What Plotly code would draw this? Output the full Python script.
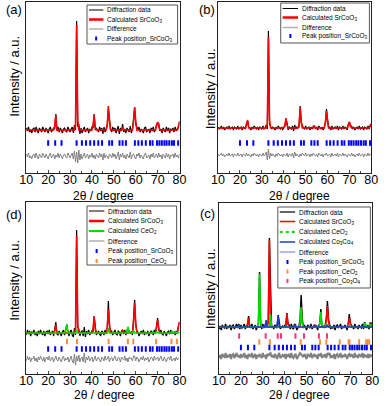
import plotly.graph_objects as go

W, H = 387, 406
two_theta = [round(10 + 0.5 * i, 1) for i in range(141)]

# ---------------- data (arbitrary intensity units) ----------------
# calculated peak heights at 0.5 degree steps (zero elsewhere)
calc_a_srcoo3 = {23.0: 4, 23.5: 15, 32.5: 6, 33.0: 105, 33.5: 10, 40.5: 4, 41.0: 15, 41.5: 3,
                 47.0: 5, 47.5: 24, 48.0: 9, 54.0: 3, 59.0: 8, 59.5: 23, 60.0: 9,
                 69.5: 4, 70.0: 8, 70.5: 4, 79.5: 4, 80.0: 7}
calc_b_srcoo3 = {23.0: 3, 23.5: 8, 32.5: 4, 33.0: 91, 33.5: 8, 40.5: 2, 41.0: 10, 41.5: 3,
                 47.0: 3, 47.5: 21, 48.0: 6, 54.0: 2, 59.0: 5, 59.5: 17, 60.0: 6,
                 69.5: 3, 70.0: 6, 70.5: 2, 79.5: 2, 80.0: 4}
calc_d_srcoo3 = {23.0: 2, 23.5: 8, 32.5: 4, 33.0: 97, 33.5: 8, 40.5: 4, 41.0: 16, 41.5: 4,
                 47.0: 5, 47.5: 24, 48.0: 9, 54.0: 3, 59.0: 10, 59.5: 30, 60.0: 10,
                 69.5: 6, 70.0: 13, 70.5: 5, 79.5: 6, 80.0: 11}
calc_d_ceo2 = {28.0: 2, 28.5: 9, 33.0: 3, 47.5: 5, 56.0: 2, 56.5: 6, 59.0: 2, 69.5: 1,
               76.5: 2, 79.0: 1}
calc_c_srcoo3 = {23.0: 3, 23.5: 9, 32.5: 5, 33.0: 87, 33.5: 6, 40.5: 3, 41.0: 13, 41.5: 3,
                 47.5: 10, 48.0: 5, 54.0: 2, 59.0: 7, 59.5: 21, 60.0: 6,
                 69.0: 2, 69.5: 9, 70.0: 4, 79.5: 4}
calc_c_ceo2 = {28.0: 5, 28.5: 53, 29.0: 4, 33.5: 13, 47.0: 4, 47.5: 20, 48.0: 3,
               56.0: 3, 56.5: 15, 57.0: 2, 59.0: 3, 69.5: 2, 76.5: 4, 77.0: 2, 79.0: 3}
calc_c_co3o4 = {19.0: 2, 31.5: 7, 36.5: 2, 37.0: 11, 44.5: 2, 59.5: 2, 65.0: 1}

# difference (observed - calculated) at every 0.5 degree step
diff_a = [2, -1, 3, -2, 0, -3, 1, 2, -2, 3, -1, -3, 2, 0, -2, 3, 1, -2, 2, -1,
          -3, 1, 3, -2, 0, 2, -3, 1, -1, 3, -2, 2, 0, -3, 1, 2, -1, -2, 3, 0,
          -2, 1, 3, -3, 5, -6, 4, -7, 6, -4, 2, -3, 1, 3, -2, 0, 2, -3, 1, -1,
          3, -2, 1, -3, 2, 0, -2, 3, -1, 2, -4, 3, -2, 1, 0, -3, 2, 1, -2, 3,
          -1, 2, -3, 0, 4, -4, 2, -1, 3, -2, 1, -3, 2, 0, -2, 4, -3, 1, 2, -1,
          -3, 2, 0, 3, -2, 1, -1, -3, 2, 3, -2, 0, 1, -3, 2, -1, 3, -2, 0, 2,
          -2, 3, -1, 1, -3, 2, 0, -2, 3, -1, 2, -3, 1, 0, 2, -2, 3, -1, 1, -2, 2]
diff_b = [1, -1, 0, 2, -1, 1, -2, 0, 1, -1, 2, -1, 0, 1, -2, 1, 0, -1, 2, -1,
          0, 1, -2, 1, 0, -1, 2, -1, 1, 0, -2, 1, -1, 2, 0, -1, 1, -2, 1, 0,
          -1, 2, -1, 0, 3, -5, 6, -4, 2, -1, 1, 0, -2, 1, -1, 2, 0, -1, 1, -2,
          1, 0, -1, 2, -2, 1, 0, -1, 2, -3, 3, -1, 1, 0, -2, 1, -1, 2, 0, -1,
          2, -1, 0, 1, -2, 1, -1, 2, 0, -1, 1, -2, 2, 0, -1, 1, -2, 1, 0, 2,
          -1, 0, 1, -2, 2, -1, 0, 1, -1, 2, -2, 1, 0, -1, 2, -1, 1, 0, -2, 1,
          0, -1, 2, -1, 1, -2, 0, 1, -1, 2, -1, 0, 1, -2, 1, 0, -1, 2, -1, 1, 0]
diff_d = [-2, 3, -1, 2, -3, 1, 0, 3, -2, 1, -3, 2, -1, 3, 0, -2, 2, -3, 1, 2,
          -1, 3, -2, 0, 2, -3, 1, 3, -1, -2, 2, 0, -3, 1, 3, -2, 1, -1, 2, -3,
          1, 3, -2, -4, 5, -6, 3, -2, 4, -3, 1, 2, -3, 6, -4, 2, -1, 3, -2, 0,
          2, -3, 1, 3, -2, 0, 2, -1, -3, 2, 1, -2, 3, -1, 0, 3, -3, 1, 2, -2,
          0, 3, -1, -2, 2, 1, -3, 2, 0, -1, 3, -2, 1, -3, 2, 0, 1, -2, 3, 3,
          -2, 2, 1, -3, 0, 2, -1, 3, -2, 1, -1, 2, -3, 0, 2, 1, -2, 3, -1, 0,
          2, -2, 1, 3, -1, -2, 2, 0, -3, 1, 2, -1, 3, -2, 0, 1, -2, 2, -1, 1, 0]
diff_c = [-2, 1, -3, 2, 0, -1, 3, -2, 1, -1, 2, -3, 1, 2, -2, 0, 3, -1, 1, -2,
          2, -1, 0, 3, -2, 1, -3, 2, 1, -1, 3, -2, 0, 2, -3, 1, -1, 2, 0, -2,
          3, -1, 1, -3, 2, 0, 2, 3, -1, 1, -2, 2, 0, -3, 1, 3, -2, 0, 1, -1,
          2, -3, 1, 0, 2, -2, 3, -1, -2, 1, 2, -3, 0, 1, 3, 2, 1, -1, 2, 0,
          -3, 2, 1, -1, 3, -2, 0, 2, -1, 1, -3, 2, 0, 3, -2, 1, -1, 2, -2, 3,
          1, 3, -2, 0, -1, 2, -3, 1, 2, -1, 0, 3, -2, 1, -1, 2, 0, -3, 1, 2,
          -1, 2, 0, -2, 3, -1, 1, -2, 2, 0, -1, 3, -2, 1, 0, -1, 2, -2, 1, 0, 1]

# Bragg peak positions (2theta, degree)
peaks_srcoo3 = [20.0, 23.2, 26.1, 33.0, 35.4, 37.3, 39.2, 41.0, 42.9, 44.6, 47.9, 49.2,
                52.6, 54.0, 55.5, 59.6, 61.2, 62.8, 64.6, 66.5, 67.7, 69.7, 70.8, 71.9,
                73.1, 74.1, 75.3, 76.5, 77.5, 79.4]
peaks_ceo2_d = [28.6, 33.2, 47.6, 56.4, 58.9, 69.3, 76.3, 78.8]
peaks_ceo2_c = [28.4, 33.2, 47.3, 56.1, 59.0, 65.1, 69.2, 69.6, 74.0, 77.2, 77.9, 78.6]
peaks_co3o4 = [19.2, 31.3, 36.8, 38.3, 44.9, 48.8, 55.6, 59.3]

x_ticks = [10, 20, 30, 40, 50, 60, 70, 80]


def dense(d):
    return [d.get(t, 0) for t in two_theta]


RED, BLACK, GREEN, NAVY = "#ff0000", "#000000", "#00dd00", "#1a3fcc"
BLUE, ORANGE, PINK = "#0000ff", "#ff8c40", "#ff3377"
GRAY = "#808080"

fig = go.Figure()


def px_x(v):
    return v / W


def px_y(v):
    return 1 - v / H


def add_line(ax, y, color, width):
    fig.add_trace(go.Scatter(x=two_theta, y=y, mode="lines", line=dict(color=color, width=width),
                             xaxis="x" + ax, yaxis="y" + ax, showlegend=False, hoverinfo="skip"))


def add_ticks(ax, pos, ylev, color):
    fig.add_trace(go.Scatter(x=pos, y=[ylev] * len(pos), mode="markers",
                             marker=dict(symbol="line-ns", size=4, line=dict(color=color, width=2)),
                             xaxis="x" + ax, yaxis="y" + ax, showlegend=False, hoverinfo="skip"))


# panel (a)
ca = dense(calc_a_srcoo3)
add_line("", [c + n for c, n in zip(ca, diff_a)], BLACK, 1.2)
add_line("", ca, RED, 1.6)
add_ticks("", peaks_srcoo3, -13, BLUE)
add_line("", [-26 + n for n in diff_a], GRAY, 1)

# panel (b)
cb = dense(calc_b_srcoo3)
add_line("2", [c + n for c, n in zip(cb, diff_b)], BLACK, 1.2)
add_line("2", cb, RED, 1.6)
add_ticks("2", peaks_srcoo3, -15, BLUE)
add_line("2", [-27 + n for n in diff_b], GRAY, 1)

# panel (d)
cd1, cd2 = dense(calc_d_srcoo3), dense(calc_d_ceo2)
add_line("3", [a + b + n for a, b, n in zip(cd1, cd2, diff_d)], BLACK, 1.2)
add_line("3", cd1, RED, 1.6)
add_line("3", cd2, GREEN, 1.6)
add_ticks("3", peaks_ceo2_d, -8.5, ORANGE)
add_ticks("3", peaks_srcoo3, -16, BLUE)
add_line("3", [-26 + n for n in diff_d], GRAY, 1)

# panel (c)
cc1, cc2, cc3 = dense(calc_c_srcoo3), dense(calc_c_ceo2), dense(calc_c_co3o4)
add_line("4", [a + b + c + n for a, b, c, n in zip(cc1, cc2, cc3, diff_c)], BLACK, 1.4)
add_line("4", cc1, RED, 1.6)
add_line("4", cc2, GREEN, 1.6)
add_line("4", cc3, NAVY, 1.6)
add_ticks("4", peaks_co3o4, -9, PINK)
add_ticks("4", peaks_ceo2_c, -15, ORANGE)
add_ticks("4", peaks_srcoo3, -20.5, BLUE)
add_line("4", [-29 + n for n in diff_c], GRAY, 2)

FONT = "Liberation Sans, Arial, sans-serif"
panels = [
    ("", (20, 179), (2, 173), (-43, 128)),
    ("2", (219, 378), (2, 173), (-45, 126)),
    ("3", (20, 179), (202, 374), (-41, 131)),
    ("4", (220, 379), (203, 374), (-47, 124)),
]
layout = dict(width=W, height=H, margin=dict(l=0, r=0, t=0, b=0),
              paper_bgcolor="white", plot_bgcolor="white", showlegend=False,
              font=dict(family=FONT, color="black"))
for ax, (x0, x1), (y0, y1), yr in panels:
    layout["xaxis" + ax] = dict(
        domain=[px_x(x0), px_x(x1)], range=[10, 80], anchor="y" + ax,
        tickmode="array", tickvals=x_ticks, ticks="inside", ticklen=3, tickwidth=1,
        minor=dict(dtick=5, tick0=10, ticks="inside", ticklen=2, tickwidth=1),
        showline=True, linecolor="#222", linewidth=1.2, mirror=True,
        showgrid=False, zeroline=False, tickfont=dict(size=12.5, family=FONT),
        ticklabelstandoff=-5)
    layout["yaxis" + ax] = dict(
        domain=[px_y(y1), px_y(y0)], range=list(yr), anchor="x" + ax,
        showticklabels=False, ticks="", showline=True, linecolor="#222", linewidth=1.2,
        mirror=True, showgrid=False, zeroline=False)
fig.update_layout(**layout)

annotations = []
shapes = []


def text(xp, yp, s, size, anchor="center", angle=0):
    annotations.append(dict(x=px_x(xp), y=px_y(yp), xref="paper", yref="paper", text=s,
                            showarrow=False, xanchor=anchor, yanchor="middle", textangle=angle,
                            font=dict(size=size, family=FONT, color="black")))


for lab, xp, yp in [("(a)", 7, 10), ("(b)", 208, 10), ("(d)", 7, 215), ("(c)", 208.5, 213)]:
    text(xp, yp, lab, 13)
for xp, yp in [(7, 76), (211, 89), (7, 280), (211, 289)]:
    text(xp, yp, "Intensity / a.u.", 13, angle=-90)
for xp, yp in [(100, 196), (303, 196), (101, 395), (303, 395)]:
    text(xp, yp, "2θ / degree", 12)

leg_a = [("Diffraction data", "line", BLACK, 1), ("Calculated SrCoO<sub>3</sub>", "line", RED, 2.5),
         ("Difference", "line", "#b0b0b0", 1.5), ("Peak position_SrCoO<sub>3</sub>", "tick", BLUE, 2)]
leg_d = [("Diffraction data", "line", BLACK, 1), ("Calculated SrCoO<sub>3</sub>", "line", RED, 2.5),
         ("Calculated CeO<sub>2</sub>", "line", GREEN, 2), ("Difference", "line", "#b0b0b0", 1.5),
         ("Peak position_SrCoO<sub>3</sub>", "tick", BLUE, 2), ("Peak position_CeO<sub>2</sub>", "tick", ORANGE, 2)]
leg_c = [("Diffraction data", "line", "#666666", 2), ("Calculated SrCoO<sub>3</sub>", "line", RED, 1.5),
         ("Calculated CeO<sub>2</sub>", "dot", GREEN, 2), ("Calculated Co<sub>3</sub>Co<sub>4</sub>", "line", NAVY, 1.5),
         ("Difference", "line", "#b8b8ff", 2), ("Peak position_SrCoO<sub>3</sub>", "tick", BLUE, 2),
         ("Peak position_CeO<sub>2</sub>", "tick", ORANGE, 2), ("Peak position_Co<sub>3</sub>O<sub>4</sub>", "tick", PINK, 2)]

legends = [
    (leg_a, (83, 5, 177, 44), [10, 19.5, 29, 38.5], (85, 100), 102),
    (leg_a, (284, 3, 376, 43), [8.5, 17.5, 27.5, 36], (286, 302), 304),
    (leg_d, (83, 206, 176, 265), [211, 221, 231, 241, 251, 261], (85, 101), 103),
    (leg_c, (281, 207, 377, 288), [212, 221.5, 232, 242, 252, 262, 271.5, 281], (283, 299), 301),
]
for entries, (bx0, by0, bx1, by1), rows, (lx0, lx1), tx in legends:
    shapes.append(dict(type="rect", xref="paper", yref="paper", x0=px_x(bx0), x1=px_x(bx1),
                       y0=px_y(by1), y1=px_y(by0), line=dict(color="#555", width=1),
                       fillcolor="white", layer="above"))
    for (lab, kind, col, wd), ry in zip(entries, rows):
        if kind == "tick":
            xm = (lx0 + lx1) / 2
            shapes.append(dict(type="line", xref="paper", yref="paper", x0=px_x(xm), x1=px_x(xm),
                               y0=px_y(ry + 2), y1=px_y(ry - 2), line=dict(color=col, width=wd), layer="above"))
        else:
            shapes.append(dict(type="line", xref="paper", yref="paper", x0=px_x(lx0), x1=px_x(lx1),
                               y0=px_y(ry), y1=px_y(ry),
                               line=dict(color=col, width=wd, dash="dot" if kind == "dot" else "solid"),
                               layer="above"))
        text(tx, ry, lab, 6.5, anchor="left")

fig.update_layout(annotations=annotations, shapes=shapes)
fig.write_html("out.html", config={"displayModeBar": False},
               post_script="document.body.style.margin='0';")
